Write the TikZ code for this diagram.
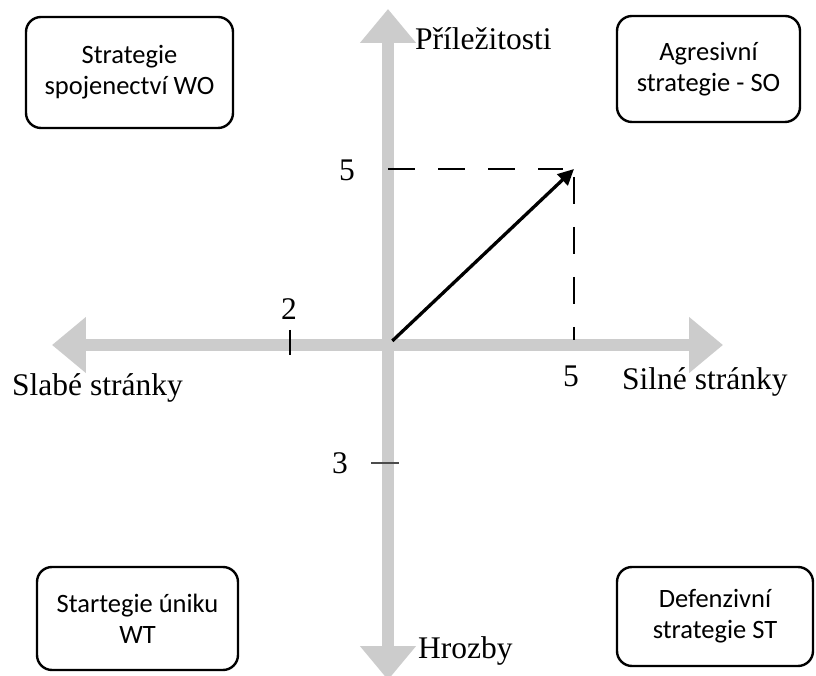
\documentclass[tikz,border=0pt]{standalone}
\usepackage{fontspec}
\setmainfont{Liberation Serif}
\newfontfamily\boxfont{Carlito}
\usetikzlibrary{arrows.meta, calc}
\definecolor{axisgray}{RGB}{204,204,204}

\begin{document}
\begin{tikzpicture}[x=1pt, y=1pt,
    axis/.style={line width=12pt, axisgray, {Triangle[length=34pt,width=54pt]}-{Triangle[length=34pt,width=54pt]}},
    strategy/.style={draw, line width=2.4pt, rounded corners=15pt, align=center, inner sep=0pt, font=\boxfont\fontsize{26.5}{31}\selectfont},
    axislabel/.style={anchor=base west, inner sep=0pt, font=\fontsize{31.5}{36}\selectfont},
    number/.style={anchor=base, inner sep=0pt, font=\fontsize{31.5}{36}\selectfont},
    guide/.style={line width=1.3pt, dash pattern=on 27pt off 23pt}]

        % page frame, origin where the two axes cross
        \useasboundingbox (-388,-331) rectangle (428,345);

        % the two gray axes
        \coordinate (O) at (0,0);
        \coordinate (W) at (-336,0);
        \coordinate (E) at (335,0);
        \coordinate (N) at (0,336);
        \coordinate (S) at (0,-335);
        \draw[axis] (W) -- (E);
        \draw[axis] (S) -- (N);

	% ticks
	\draw[line width=1.3pt] (-98,15) -- (-98,-10);
	\draw[line width=1.3pt, black!70] (-17,-118) -- (11,-118);

	% the resulting vector and its projections
	\coordinate (P) at (186,176);
	\draw[guide, shorten >=11pt] (O |- P) -- (P);
	\draw[guide, shorten <=8pt, shorten >=5pt] (P) -- (P |- O);
	\draw[line width=3.3pt, shorten <=6pt, -{Triangle[length=16pt,width=15pt]}] (O) -- (P);

	% axis labels and values
	\node[axislabel] (opp) at (27,295) {Příležitosti};
	\node[axislabel] (thr) at (30,-313) {Hrozby};
	\node[axislabel] (weak) at (-376,-51) {Slabé stránky};
	\node[axislabel] (str) at (234,-45) {Silné stránky};
	\node[number] (s5) at (183,-42) {5};
	\node[number] (o5) at (-41,164) {5};
	\node[number] (w2) at (-99,25) {2};
	\node[number] (t3) at (-48,-129) {3};

	% strategies in the four corners
	\node[strategy, minimum width=207pt, minimum height=111pt] (WO) at (-258.5,272.5) {Strategie\\spojenectví WO};
	\node[strategy, minimum width=183pt, minimum height=106pt] (SO) at (320.5,276) {Agresivní\\strategie - SO};
	\node[strategy, minimum width=201pt, minimum height=103pt] (WT) at (-250.5,-273.5) {Startegie úniku\\WT};
	\node[strategy, minimum width=196pt, minimum height=99pt] (ST) at (327,-271.5) {Defenzivní\\strategie ST};

\end{tikzpicture}
\end{document}
